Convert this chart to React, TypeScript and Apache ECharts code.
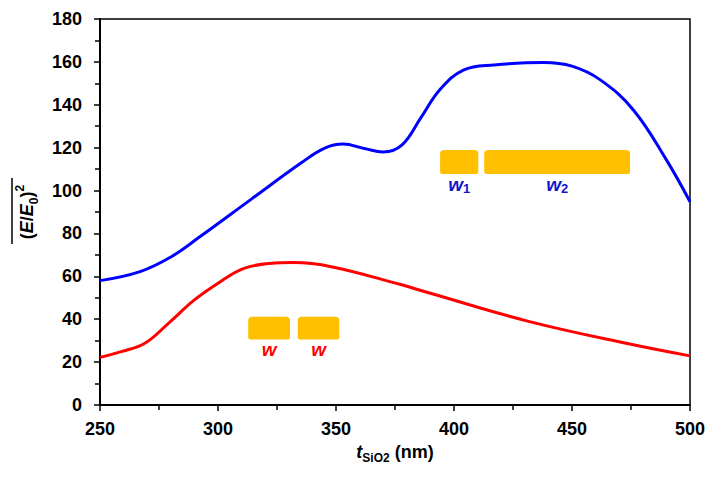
import React, { useEffect, useRef } from "react";
import * as echarts from "echarts";

// ---- data ----
const blueX = [250, 267, 280, 292, 314, 335, 345, 353, 362, 370, 378, 386, 394, 404, 417, 438, 450, 462, 476, 490, 500];
const blueY = [58, 62.2, 69, 78.2, 95.9, 112.7, 119.7, 121.7, 119.6, 118, 121.3, 134, 147, 156.2, 158.6, 159.7, 158, 151.6, 137.6, 114.3, 94.8];

const redX = [250, 259, 269, 279, 290, 301, 311, 322, 332, 348, 377, 390, 432, 475, 500];
const redY = [22.2, 24.9, 28.8, 38.1, 49, 57.5, 63.7, 66, 66.4, 64.5, 56.3, 52.1, 38.9, 28.3, 22.9];

// annotation boxes: [x0, x1, y0, y1]
const blueBoxes = [
  [394.1, 410.3, 107.7, 118.9],
  [412.8, 474.6, 107.7, 118.9],
];
const blueBoxLabels = ["{w|w}{s|1}", "{w|w}{s|2}"];
const redBoxes = [
  [312.8, 330.5, 30.6, 41.2],
  [333.8, 351.4, 30.6, 41.2],
];
const redBoxLabels = ["{w|w}", "{w|w}"];

const xTicks = { min: 250, max: 500, interval: 50 };
const yTicks = { min: 0, max: 180, interval: 20 };

const FONT = "'Liberation Sans', Arial, sans-serif";

function boxSeries(boxes: number[][], labels: string[], color: string) {
  return {
    type: "custom",
    silent: true,
    z: 5,
    data: boxes,
    renderItem: (params: any, api: any) => {
      const x0 = api.value(0), x1 = api.value(1), y0 = api.value(2), y1 = api.value(3);
      const p0 = api.coord([x0, y1]);
      const p1 = api.coord([x1, y0]);
      return {
        type: "group",
        children: [
          {
            type: "rect",
            shape: { x: p0[0], y: p0[1], width: p1[0] - p0[0], height: p1[1] - p0[1], r: [4, 4, 2, 2] },
            style: { fill: "#FFC000" },
          },
          {
            type: "text",
            style: {
              text: labels[params.dataIndex],
              x: (p0[0] + p1[0]) / 2,
              y: p1[1] + 10,
              align: "center",
              verticalAlign: "middle",
              fill: color,
              rich: {
                w: { fontFamily: FONT, fontSize: 19, fontWeight: "bold", fontStyle: "italic", fill: color, lineHeight: 22 },
                s: { fontFamily: FONT, fontSize: 13, fontWeight: "bold", fill: color, lineHeight: 12, verticalAlign: "bottom" },
              },
            },
          },
        ],
      };
    },
  };
}

export default function App() {
  const ref = useRef<HTMLDivElement>(null);
  useEffect(() => {
    if (!ref.current) return;
    const chart = echarts.init(ref.current, null, { renderer: "svg" });
    const axisLabel = { color: "#000", fontFamily: FONT, fontSize: 18, fontWeight: "bold" };
    chart.setOption({
      animation: false,
      backgroundColor: "#fff",
      grid: { left: 100, right: 24, top: 19, bottom: 75, show: true, borderColor: "#000", borderWidth: 1.5 },
      xAxis: {
        type: "value",
        min: xTicks.min,
        max: xTicks.max,
        interval: xTicks.interval,
        axisLine: { show: true, lineStyle: { color: "#000", width: 2 } },
        axisTick: { show: true, inside: false, length: 6, lineStyle: { color: "#000", width: 1.5 } },
        minorTick: { show: true, splitNumber: 2, length: 5, lineStyle: { color: "#000", width: 1.5 } },
        splitLine: { show: false },
        axisLabel: { ...axisLabel, margin: 15 },
        name: "{i|t}{s|SiO2}{n| (nm)}",
        nameLocation: "middle",
        nameGap: 31,
        nameTextStyle: {
          color: "#000",
          rich: {
            i: { fontFamily: FONT, fontSize: 18, fontWeight: "bold", fontStyle: "italic", color: "#000", lineHeight: 24 },
            s: { fontFamily: FONT, fontSize: 12, fontWeight: "bold", color: "#000", lineHeight: 12, verticalAlign: "bottom" },
            n: { fontFamily: FONT, fontSize: 18, fontWeight: "bold", color: "#000", lineHeight: 24 },
          },
        },
      },
      yAxis: {
        type: "value",
        min: yTicks.min,
        max: yTicks.max,
        interval: yTicks.interval,
        axisLine: { show: true, lineStyle: { color: "#000", width: 2 } },
        axisTick: { show: true, inside: false, length: 6, lineStyle: { color: "#000", width: 1.5 } },
        minorTick: { show: true, splitNumber: 2, length: 5, lineStyle: { color: "#000", width: 1.5 } },
        splitLine: { show: false },
        axisLabel: { ...axisLabel, margin: 18 },
        name: "{p|(}{i|E}{p|/}{i|E}{b|0}{p|)}{t|2}",
        nameLocation: "middle",
        nameRotate: 90,
        nameGap: 60,
        nameTextStyle: {
          color: "#000",
          rich: {
            p: { fontFamily: FONT, fontSize: 18, fontWeight: "bold", color: "#000", lineHeight: 26 },
            i: { fontFamily: FONT, fontSize: 18, fontWeight: "bold", fontStyle: "italic", color: "#000", lineHeight: 26 },
            b: { fontFamily: FONT, fontSize: 12, fontWeight: "bold", color: "#000", lineHeight: 12, verticalAlign: "bottom" },
            t: { fontFamily: FONT, fontSize: 12, fontWeight: "bold", color: "#000", lineHeight: 12, verticalAlign: "top" },
          },
        },
      },
      graphic: [
        {
          type: "line",
          shape: { x1: 12, y1: 178, x2: 12, y2: 244 },
          style: { stroke: "#000", lineWidth: 1.5 },
        },
      ],
      series: [
        {
          type: "line",
          data: blueX.map((x, i) => [x, blueY[i]]),
          smooth: 0.4,
          symbol: "none",
          lineStyle: { color: "#0000FF", width: 3 },
          z: 3,
        },
        {
          type: "line",
          data: redX.map((x, i) => [x, redY[i]]),
          smooth: 0.4,
          symbol: "none",
          lineStyle: { color: "#FF0000", width: 3 },
          z: 3,
        },
        boxSeries(blueBoxes, blueBoxLabels, "#1414CC"),
        boxSeries(redBoxes, redBoxLabels, "#FF0000"),
      ],
    });
    return () => chart.dispose();
  }, []);
  return <div ref={ref} style={{ width: 714, height: 480, position: "absolute", left: 0, top: 0 }} />;
}
